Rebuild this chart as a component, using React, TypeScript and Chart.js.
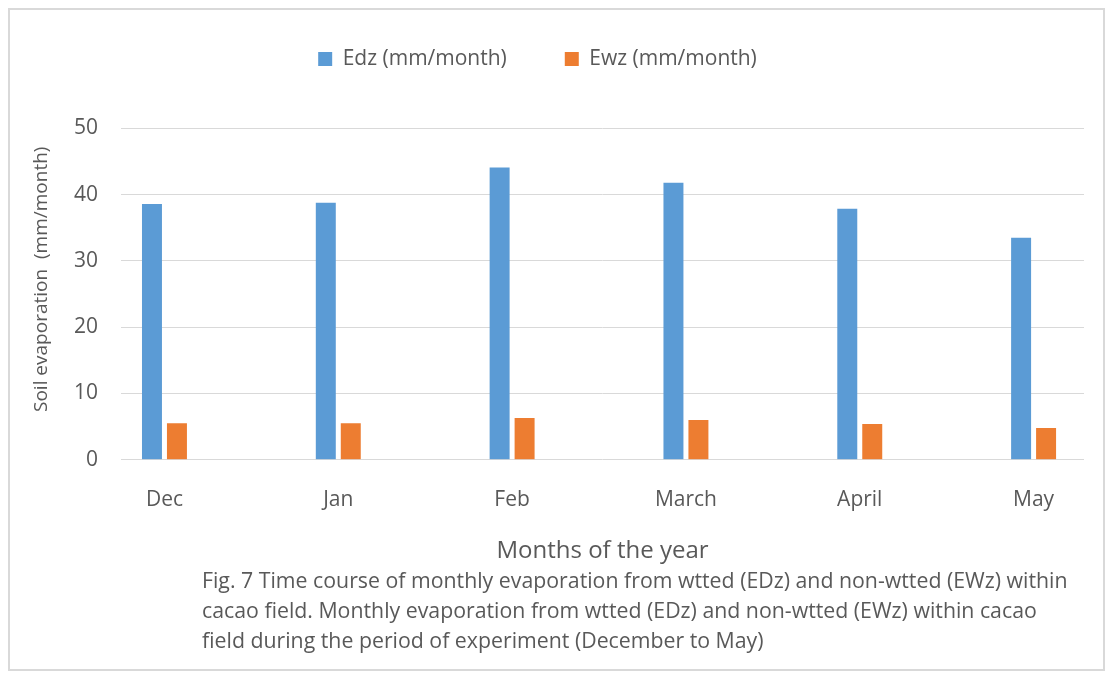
import React, { useEffect, useRef } from 'react';
import { Chart, registerables } from 'chart.js';

Chart.register(...registerables);

const months = ['Dec', 'Jan', 'Feb', 'March', 'April', 'May'];
const edzValues = [38.6, 38.8, 44.1, 41.8, 37.9, 33.5];
const ewzValues = [5.5, 5.5, 6.3, 6.0, 5.4, 4.8];
const seriesNames = ['Edz (mm/month)', 'Ewz (mm/month)'];
const yTickStep = 10;
const yMax = 50;
const xTitle = 'Months of the year';
const yTitle = 'Soil evaporation  (mm/month)';
const captionLines = [
  'Fig. 7 Time course of monthly evaporation from wtted (EDz) and non-wtted (EWz) within',
  'cacao field. Monthly evaporation from wtted (EDz) and non-wtted (EWz) within cacao',
  'field during the period of experiment (December to May)',
];

const FONT = '"Open Sans", "Noto Sans", sans-serif';
const TEXT = '#595959';
const BLUE = '#5B9BD5';
const ORANGE = '#ED7D31';
const GRID = '#D9D9D9';

const W = 1093;
const H = 659;

export default function App() {
  const ref = useRef<HTMLCanvasElement | null>(null);

  useEffect(() => {
    if (!ref.current) return;
    const chart = new Chart(ref.current, {
      type: 'bar',
      data: {
        datasets: [
          {
            label: seriesNames[0],
            data: edzValues.map((v, i) => ({ x: i, y: v })),
            backgroundColor: BLUE,
            borderWidth: 0,
            categoryPercentage: 50 / 174,
            barPercentage: 0.8,
          },
          {
            label: seriesNames[1],
            data: ewzValues.map((v, i) => ({ x: i, y: v })),
            backgroundColor: ORANGE,
            borderWidth: 0,
            categoryPercentage: 50 / 174,
            barPercentage: 0.8,
          },
        ],
      },
      options: {
        animation: false,
        responsive: false,
        maintainAspectRatio: false,
        layout: { padding: { top: -19.5, left: -19, right: 19, bottom: 103.6 } },
        plugins: {
          legend: {
            position: 'top',
            weight: 3000,
            labels: {
              boxWidth: 14,
              boxHeight: 14,
              padding: 58,
              color: TEXT,
              font: { family: FONT, size: 21 },
            },
          } as any,
          title: {
            display: true,
            text: '',
            padding: { top: 0, bottom: 37 },
            font: { size: 10 },
          },
          tooltip: { enabled: false },
        },
        scales: {
          x: {
            type: 'linear',
            min: -0.25,
            max: 5.29,
            offset: false,
            grid: { display: false, drawTicks: false, offset: false },
            border: { display: false },
            afterBuildTicks: (axis: any) => {
              axis.ticks = months.map((_, i) => ({ value: i }));
            },
            afterFit: (s: any) => {
              s.height = 105.7;
            },
            ticks: {
              autoSkip: false,
              maxRotation: 0,
              padding: 27.5,
              color: TEXT,
              font: { family: FONT, size: 21 },
              callback: (v: any) => months[v as number] ?? '',
            },
            title: {
              display: true,
              text: xTitle,
              color: TEXT,
              font: { family: FONT, size: 24 },
              padding: { top: 0, bottom: 0 },
            },
          },
          y: {
            min: 0,
            max: yMax,
            grid: { color: GRID, lineWidth: 1, drawTicks: false },
            border: { display: false },
            afterFit: (s: any) => {
              s.width = 130;
            },
            ticks: {
              stepSize: yTickStep,
              padding: 23,
              color: TEXT,
              font: { family: FONT, size: 21 },
            },
            title: {
              display: true,
              text: '      ' + yTitle,
              color: TEXT,
              font: { family: FONT, size: 19 },
              padding: { top: 39.1, bottom: 0 },
            },
          },
        },
      } as any,
    });
    return () => chart.destroy();
  }, []);

  return (
    <div
      style={{
        position: 'relative',
        width: W,
        height: H,
        border: '2px solid #D9D9D9',
        background: '#fff',
        fontFamily: FONT,
      }}
    >
      <canvas
        ref={ref}
        width={W}
        height={H}
        style={{ position: 'absolute', left: 0, top: 0, width: W, height: H }}
      />
      <div
        style={{
          position: 'absolute',
          left: 192,
          top: 555,
          fontSize: 21.3,
          lineHeight: '30px',
          color: TEXT,
          whiteSpace: 'nowrap',
          fontFamily: FONT,
        }}
      >
        {captionLines.map((l, i) => (
          <div key={i}>{l}</div>
        ))}
      </div>
    </div>
  );
}
